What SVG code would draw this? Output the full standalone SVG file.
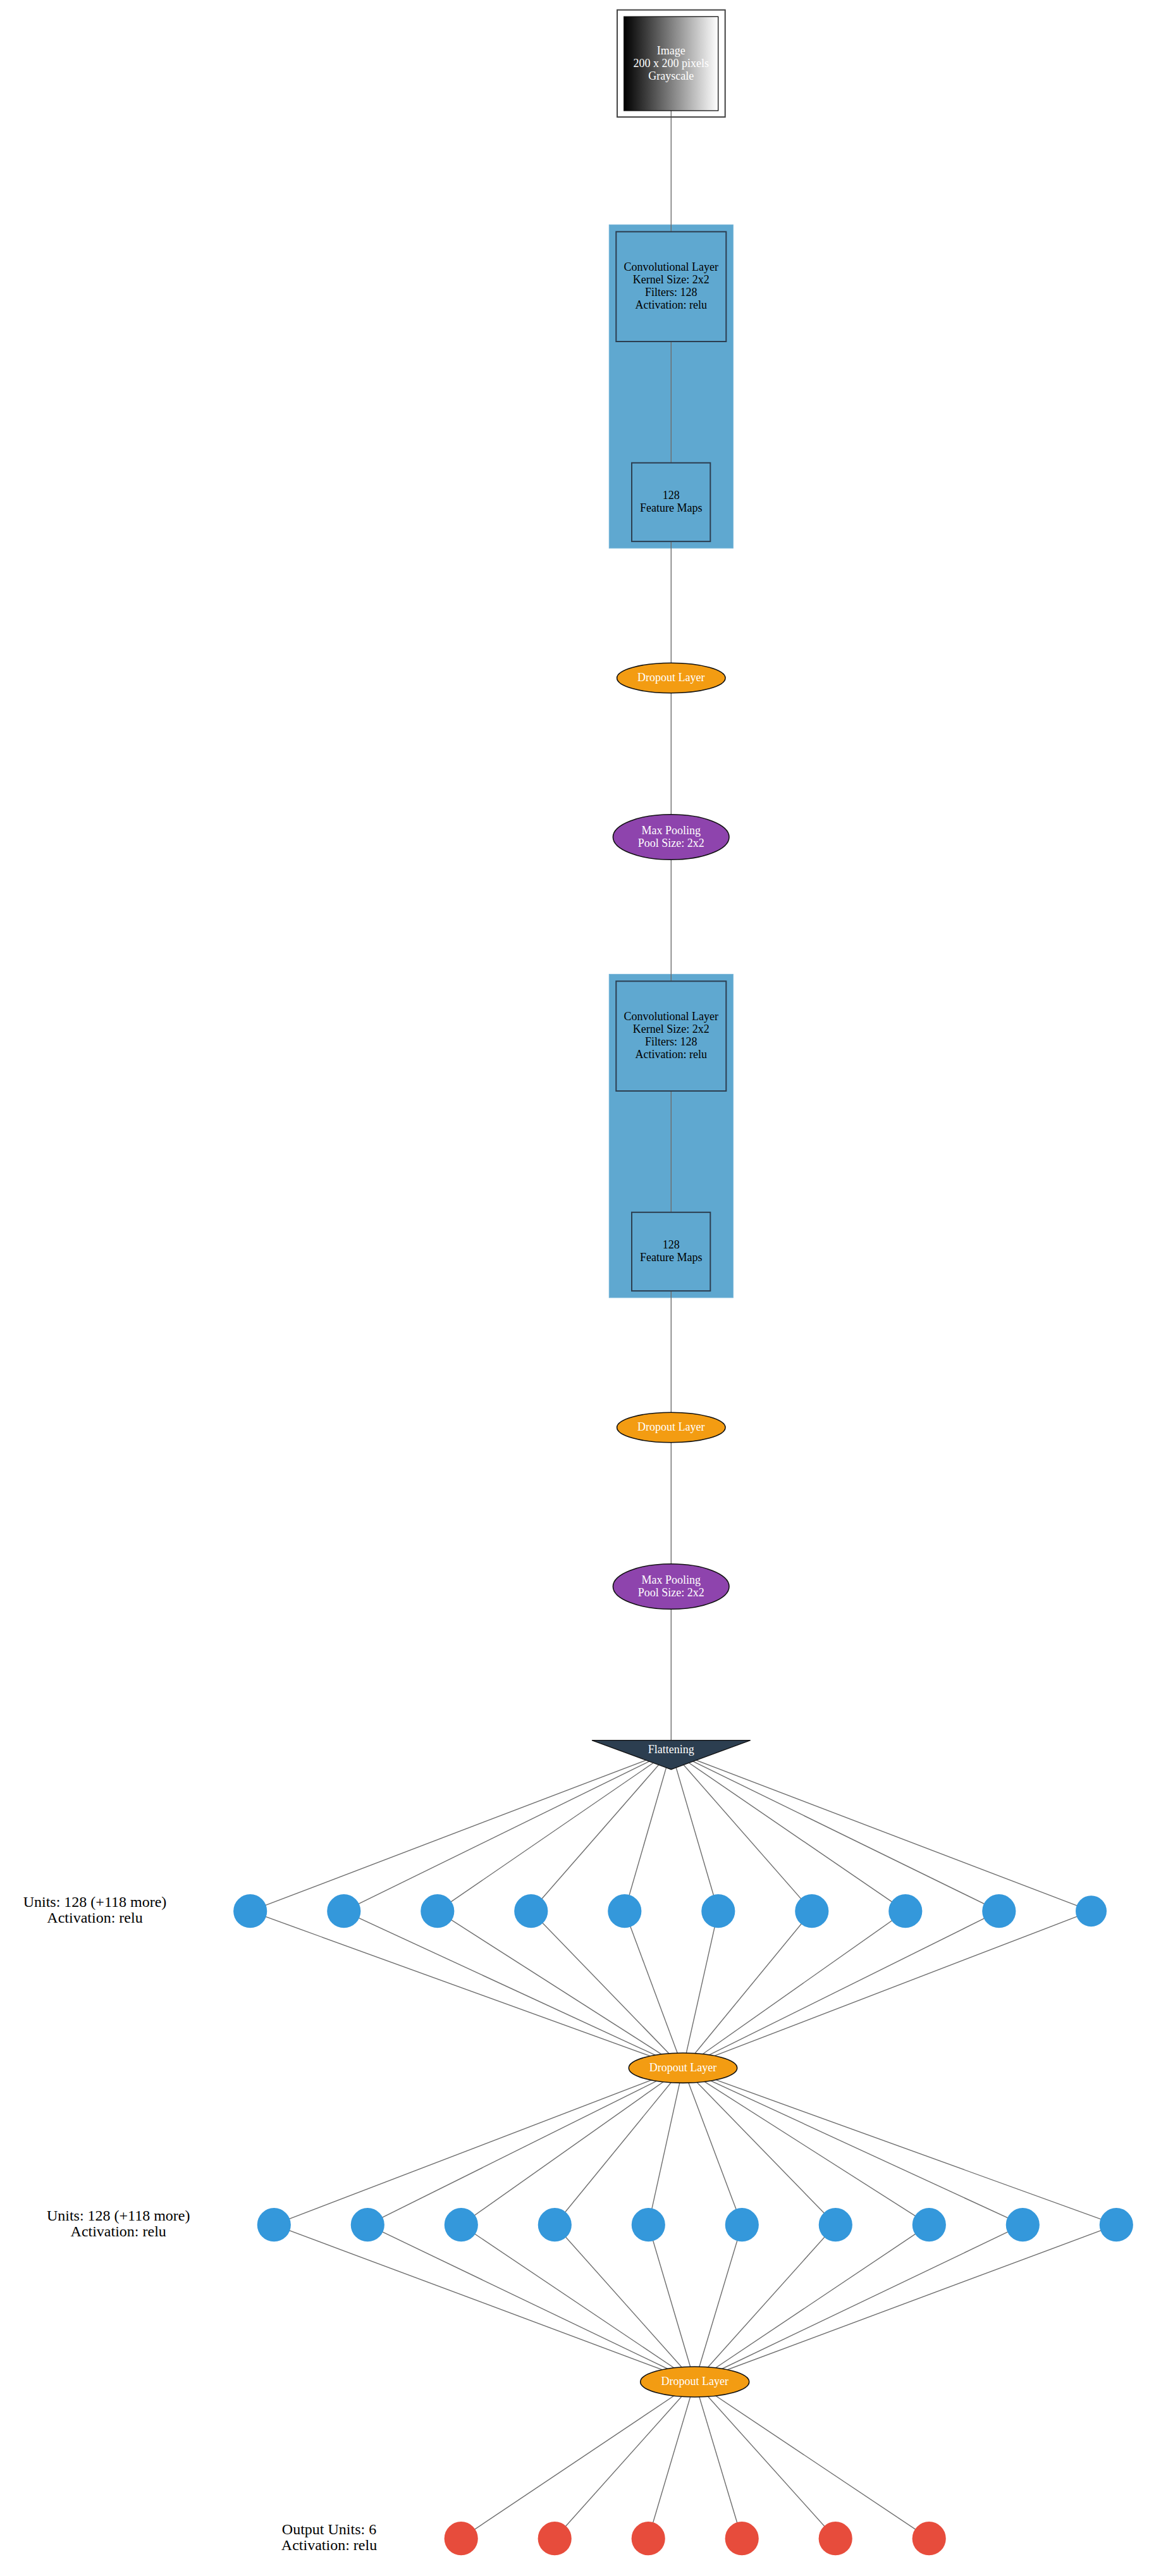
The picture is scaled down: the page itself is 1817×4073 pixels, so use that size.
<svg xmlns="http://www.w3.org/2000/svg" width="1817" height="4073" viewBox="0 0 1817 4073">
<style>
text{font-family:"Liberation Serif","Times New Roman",serif;text-anchor:middle}
.t18{font-size:18px}
.lbl{font-size:24px;fill:#000}
.w{fill:#fff}
.k{fill:#000}
.edge{stroke:#6e6e6e;stroke-width:1.4;fill:none}
.cl{fill:#5fa8d0;stroke:#6fb2d8;stroke-width:1}
.box{fill:#5fa8d0;stroke:#2c3e50;stroke-width:2}
.drop{fill:#f39c12;stroke:#111;stroke-width:1.6}
.pool{fill:#8e44ad;stroke:#111;stroke-width:1.6}
.dense{fill:#3498db}
.out{fill:#e74c3c}
</style>
<defs>
<linearGradient id="gray" x1="0" y1="0" x2="1" y2="0">
<stop offset="0" stop-color="#000"/>
<stop offset="1" stop-color="#fff"/>
</linearGradient>
</defs>
<rect width="1817" height="4073" fill="#fff"/>
<g id="clusters">
<rect class="cl" x="963.3" y="355.4" width="196" height="511.4"/>
<rect class="cl" x="963.3" y="1540.4" width="196" height="511.4"/>
</g>
<g id="edges">
<line class="edge" x1="1061.3" y1="175" x2="1061.3" y2="2752"/>
<g id="e-flat-d1">
<line class="edge" x1="1061.3" y1="2768" x2="395.7" y2="3021.7"/>
<line class="edge" x1="1061.3" y1="2768" x2="543.8" y2="3021.7"/>
<line class="edge" x1="1061.3" y1="2768" x2="691.8" y2="3021.7"/>
<line class="edge" x1="1061.3" y1="2768" x2="839.8" y2="3021.7"/>
<line class="edge" x1="1061.3" y1="2768" x2="987.8" y2="3021.7"/>
<line class="edge" x1="1061.3" y1="2768" x2="1135.8" y2="3021.7"/>
<line class="edge" x1="1061.3" y1="2768" x2="1283.8" y2="3021.7"/>
<line class="edge" x1="1061.3" y1="2768" x2="1431.8" y2="3021.7"/>
<line class="edge" x1="1061.3" y1="2768" x2="1579.8" y2="3021.7"/>
<line class="edge" x1="1061.3" y1="2768" x2="1725.5" y2="3021.7"/>
</g>
<g id="e-d1-drop2">
<line class="edge" x1="1080" y1="3269.7" x2="395.7" y2="3021.7"/>
<line class="edge" x1="1080" y1="3269.7" x2="543.8" y2="3021.7"/>
<line class="edge" x1="1080" y1="3269.7" x2="691.8" y2="3021.7"/>
<line class="edge" x1="1080" y1="3269.7" x2="839.8" y2="3021.7"/>
<line class="edge" x1="1080" y1="3269.7" x2="987.8" y2="3021.7"/>
<line class="edge" x1="1080" y1="3269.7" x2="1135.8" y2="3021.7"/>
<line class="edge" x1="1080" y1="3269.7" x2="1283.8" y2="3021.7"/>
<line class="edge" x1="1080" y1="3269.7" x2="1431.8" y2="3021.7"/>
<line class="edge" x1="1080" y1="3269.7" x2="1579.8" y2="3021.7"/>
<line class="edge" x1="1080" y1="3269.7" x2="1725.5" y2="3021.7"/>
</g>
<g id="e-drop2-d2">
<line class="edge" x1="1080" y1="3269.7" x2="433.3" y2="3517.7"/>
<line class="edge" x1="1080" y1="3269.7" x2="581.3" y2="3517.7"/>
<line class="edge" x1="1080" y1="3269.7" x2="729.3" y2="3517.7"/>
<line class="edge" x1="1080" y1="3269.7" x2="877.3" y2="3517.7"/>
<line class="edge" x1="1080" y1="3269.7" x2="1025.3" y2="3517.7"/>
<line class="edge" x1="1080" y1="3269.7" x2="1173.3" y2="3517.7"/>
<line class="edge" x1="1080" y1="3269.7" x2="1321.3" y2="3517.7"/>
<line class="edge" x1="1080" y1="3269.7" x2="1469.3" y2="3517.7"/>
<line class="edge" x1="1080" y1="3269.7" x2="1617.3" y2="3517.7"/>
<line class="edge" x1="1080" y1="3269.7" x2="1765.3" y2="3517.7"/>
</g>
<g id="e-d2-drop3">
<line class="edge" x1="1098.7" y1="3766" x2="433.3" y2="3517.7"/>
<line class="edge" x1="1098.7" y1="3766" x2="581.3" y2="3517.7"/>
<line class="edge" x1="1098.7" y1="3766" x2="729.3" y2="3517.7"/>
<line class="edge" x1="1098.7" y1="3766" x2="877.3" y2="3517.7"/>
<line class="edge" x1="1098.7" y1="3766" x2="1025.3" y2="3517.7"/>
<line class="edge" x1="1098.7" y1="3766" x2="1173.3" y2="3517.7"/>
<line class="edge" x1="1098.7" y1="3766" x2="1321.3" y2="3517.7"/>
<line class="edge" x1="1098.7" y1="3766" x2="1469.3" y2="3517.7"/>
<line class="edge" x1="1098.7" y1="3766" x2="1617.3" y2="3517.7"/>
<line class="edge" x1="1098.7" y1="3766" x2="1765.3" y2="3517.7"/>
</g>
<g id="e-drop3-out">
<line class="edge" x1="1098.7" y1="3766" x2="729.2" y2="4013.7"/>
<line class="edge" x1="1098.7" y1="3766" x2="877.2" y2="4013.7"/>
<line class="edge" x1="1098.7" y1="3766" x2="1025.2" y2="4013.7"/>
<line class="edge" x1="1098.7" y1="3766" x2="1173.2" y2="4013.7"/>
<line class="edge" x1="1098.7" y1="3766" x2="1321.2" y2="4013.7"/>
<line class="edge" x1="1098.7" y1="3766" x2="1469.2" y2="4013.7"/>
</g>
</g>
<g id="input">
<rect x="976" y="15.7" width="170.7" height="169.3" fill="none" stroke="#444" stroke-width="2"/>
<rect x="986.7" y="26.3" width="149" height="148.7" fill="url(#gray)" stroke="#111" stroke-width="1.3"/>
<text class="t18 w" x="1061.3" y="86">Image</text>
<text class="t18 w" x="1061.3" y="106">200 x 200 pixels</text>
<text class="t18 w" x="1061.3" y="125.7">Grayscale</text>
</g>
<g id="conv1">
<rect class="box" x="974.3" y="366.4" width="174" height="173.6"/>
<text class="t18 k" x="1061.3" y="427.5">Convolutional Layer</text>
<text class="t18 k" x="1061.3" y="447.5">Kernel Size: 2x2</text>
<text class="t18 k" x="1061.3" y="467.5">Filters: 128</text>
<text class="t18 k" x="1061.3" y="487.5">Activation: relu</text>
</g>
<g id="fmap1">
<rect class="box" x="999" y="731.8" width="124.3" height="124.3"/>
<text class="t18 k" x="1061.3" y="789">128</text>
<text class="t18 k" x="1061.3" y="809">Feature Maps</text>
</g>
<g id="dropout1">
<ellipse class="drop" cx="1061.3" cy="1072" rx="85.7" ry="23.8"/>
<text class="t18 w" x="1061.3" y="1077.3">Dropout Layer</text>
</g>
<g id="pool1">
<ellipse class="pool" cx="1061.2" cy="1323.5" rx="91.8" ry="35.8"/>
<text class="t18 w" x="1061.3" y="1318.7">Max Pooling</text>
<text class="t18 w" x="1061.3" y="1338.5">Pool Size: 2x2</text>
</g>
<g id="conv2">
<rect class="box" x="974.3" y="1551.4" width="174" height="173.6"/>
<text class="t18 k" x="1061.3" y="1612.5">Convolutional Layer</text>
<text class="t18 k" x="1061.3" y="1632.5">Kernel Size: 2x2</text>
<text class="t18 k" x="1061.3" y="1652.5">Filters: 128</text>
<text class="t18 k" x="1061.3" y="1672.5">Activation: relu</text>
</g>
<g id="fmap2">
<rect class="box" x="999" y="1916.8" width="124.3" height="124.3"/>
<text class="t18 k" x="1061.3" y="1974">128</text>
<text class="t18 k" x="1061.3" y="1994">Feature Maps</text>
</g>
<g id="dropout2">
<ellipse class="drop" cx="1061.3" cy="2257" rx="85.7" ry="23.8"/>
<text class="t18 w" x="1061.3" y="2262.3">Dropout Layer</text>
</g>
<g id="pool2">
<ellipse class="pool" cx="1061.2" cy="2508.5" rx="91.8" ry="35.8"/>
<text class="t18 w" x="1061.3" y="2503.7">Max Pooling</text>
<text class="t18 w" x="1061.3" y="2523.5">Pool Size: 2x2</text>
</g>
<g id="flatten">
<polygon points="936,2751.7 1186.7,2751.7 1061.3,2797.7" fill="#2c3e50" stroke="#111" stroke-width="1.3"/>
<text class="t18 w" x="1061.3" y="2771.7">Flattening</text>
</g>
<g id="dense1-label">
<text class="lbl" x="150" y="3015">Units: 128 (+118 more)</text>
<text class="lbl" x="150" y="3040">Activation: relu</text>
</g>
<g id="dense1">
<circle class="dense" cx="395.7" cy="3021.7" r="26.6"/>
<circle class="dense" cx="543.8" cy="3021.7" r="26.6"/>
<circle class="dense" cx="691.8" cy="3021.7" r="26.6"/>
<circle class="dense" cx="839.8" cy="3021.7" r="26.6"/>
<circle class="dense" cx="987.8" cy="3021.7" r="26.6"/>
<circle class="dense" cx="1135.8" cy="3021.7" r="26.6"/>
<circle class="dense" cx="1283.8" cy="3021.7" r="26.6"/>
<circle class="dense" cx="1431.8" cy="3021.7" r="26.6"/>
<circle class="dense" cx="1579.8" cy="3021.7" r="26.6"/>
<circle class="dense" cx="1725.5" cy="3021.7" r="24.5"/>
</g>
<g id="dropout3">
<ellipse class="drop" cx="1080" cy="3269.7" rx="85.7" ry="23.7"/>
<text class="t18 w" x="1080" y="3275">Dropout Layer</text>
</g>
<g id="dense2-label">
<text class="lbl" x="187.2" y="3510.7">Units: 128 (+118 more)</text>
<text class="lbl" x="187.2" y="3536">Activation: relu</text>
</g>
<g id="dense2">
<circle class="dense" cx="433.3" cy="3517.7" r="26.6"/>
<circle class="dense" cx="581.3" cy="3517.7" r="26.6"/>
<circle class="dense" cx="729.3" cy="3517.7" r="26.6"/>
<circle class="dense" cx="877.3" cy="3517.7" r="26.6"/>
<circle class="dense" cx="1025.3" cy="3517.7" r="26.6"/>
<circle class="dense" cx="1173.3" cy="3517.7" r="26.6"/>
<circle class="dense" cx="1321.3" cy="3517.7" r="26.6"/>
<circle class="dense" cx="1469.3" cy="3517.7" r="26.6"/>
<circle class="dense" cx="1617.3" cy="3517.7" r="26.6"/>
<circle class="dense" cx="1765.3" cy="3517.7" r="26.6"/>
</g>
<g id="dropout4">
<ellipse class="drop" cx="1098.7" cy="3766" rx="86" ry="24"/>
<text class="t18 w" x="1098.7" y="3770.7">Dropout Layer</text>
</g>
<g id="output-label">
<text class="lbl" x="520.5" y="4006.7">Output Units: 6</text>
<text class="lbl" x="520.5" y="4031.7">Activation: relu</text>
</g>
<g id="output">
<circle class="out" cx="729.2" cy="4013.7" r="26.6"/>
<circle class="out" cx="877.2" cy="4013.7" r="26.6"/>
<circle class="out" cx="1025.2" cy="4013.7" r="26.6"/>
<circle class="out" cx="1173.2" cy="4013.7" r="26.6"/>
<circle class="out" cx="1321.2" cy="4013.7" r="26.6"/>
<circle class="out" cx="1469.2" cy="4013.7" r="26.6"/>
</g>
</svg>
